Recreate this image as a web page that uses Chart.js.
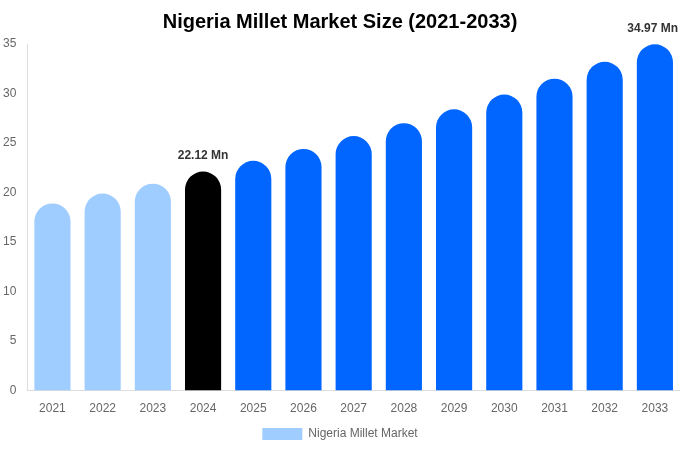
<!DOCTYPE html>
<html>
<head>
<meta charset="utf-8">
<script src="https://cdn.jsdelivr.net/npm/chart.js@4/dist/chart.umd.min.js"></script>
<style>
  html, body { margin: 0; padding: 0; background: #fff; }
  #wrap { width: 680px; height: 450px; }
</style>
</head>
<body>
<div id="wrap"><canvas id="marketChart"></canvas></div>
<script>
// Datos del gráfico
const years = ['2021', '2022', '2023', '2024', '2025', '2026', '2027', '2028', '2029', '2030', '2031', '2032', '2033'];
const marketSize = [18.9, 19.9, 20.9, 22.12, 23.2, 24.4, 25.7, 27.0, 28.4, 29.9, 31.5, 33.2, 34.97];
const labelledYears = ['2024', '2033'];
const yTicks = [0, 5, 10, 15, 20, 25, 30, 35];

// Colores: histórico, año base, previsión
const barColors = years.map(function(y) {
    if (y < '2024') return '#A0CDFF';
    if (y === '2024') return '#000000';
    return '#0066FF';
});

// Plugin para escribir el valor encima de algunas barras
const valueLabels = {
    id: 'valueLabels',
    afterDatasetsDraw: function(chart) {
        const ctx = chart.ctx;
        const meta = chart.getDatasetMeta(0);
        ctx.save();
        ctx.font = 'bold 12px "Liberation Sans", Arial, sans-serif';
        ctx.fillStyle = '#333333';
        ctx.textAlign = 'center';
        ctx.textBaseline = 'bottom';
        meta.data.forEach(function(bar, i) {
            if (labelledYears.indexOf(years[i]) !== -1) {
                let x = bar.x;
                const txt = marketSize[i].toFixed(2) + ' Mn';
                const w = ctx.measureText(txt).width;
                if (x + w / 2 > chart.width - 2) x = chart.width - 2 - w / 2;
                ctx.fillText(txt, x, bar.y - 10);
            }
        });
        ctx.restore();
    }
};

const ctx = document.getElementById('marketChart').getContext('2d');
const chart = new Chart(ctx, {
    type: 'bar',
    data: {
        labels: years,
        datasets: [{
            label: 'Nigeria Millet Market',
            data: marketSize,
            backgroundColor: barColors,
            borderColor: barColors,
            borderWidth: 0,
            borderRadius: 20,
            borderSkipped: 'bottom'
        }]
    },
    options: {
        responsive: true,
        maintainAspectRatio: false,
        animation: false,
        layout: {
            padding: { top: 0, right: 0, bottom: 0, left: 0 }
        },
        plugins: {
            title: {
                display: true,
                text: 'Nigeria Millet Market Size (2021-2033)',
                color: '#000000',
                font: { family: '"Liberation Sans", Arial, sans-serif', size: 20, weight: 'bold' },
                padding: { top: 10, bottom: 10 }
            },
            legend: {
                position: 'bottom',
                labels: {
                    boxWidth: 40,
                    boxHeight: 12,
                    padding: 9,
                    color: '#666666',
                    font: { family: '"Liberation Sans", Arial, sans-serif', size: 12 },
                    generateLabels: function(c) {
                        return [{
                            text: 'Nigeria Millet Market',
                            fillStyle: '#A0CDFF',
                            strokeStyle: '#A0CDFF',
                            lineWidth: 0,
                            fontColor: '#666666',
                            datasetIndex: 0
                        }];
                    }
                }
            },
            tooltip: { enabled: false }
        },
        scales: {
            x: {
                grid: { display: false },
                border: { display: true, color: '#dddddd' },
                ticks: {
                    color: '#666666',
                    font: { family: '"Liberation Sans", Arial, sans-serif', size: 12 },
                    padding: 3
                }
            },
            y: {
                min: 0,
                max: 35,
                afterBuildTicks: function(axis) {
                    axis.ticks = yTicks.map(function(v) { return { value: v }; });
                },
                grid: { display: false },
                border: { display: true, color: '#dddddd' },
                ticks: {
                    color: '#666666',
                    font: { family: '"Liberation Sans", Arial, sans-serif', size: 12 },
                    padding: 3
                }
            }
        }
    },
    plugins: [valueLabels]
});
</script>
</body>
</html>
